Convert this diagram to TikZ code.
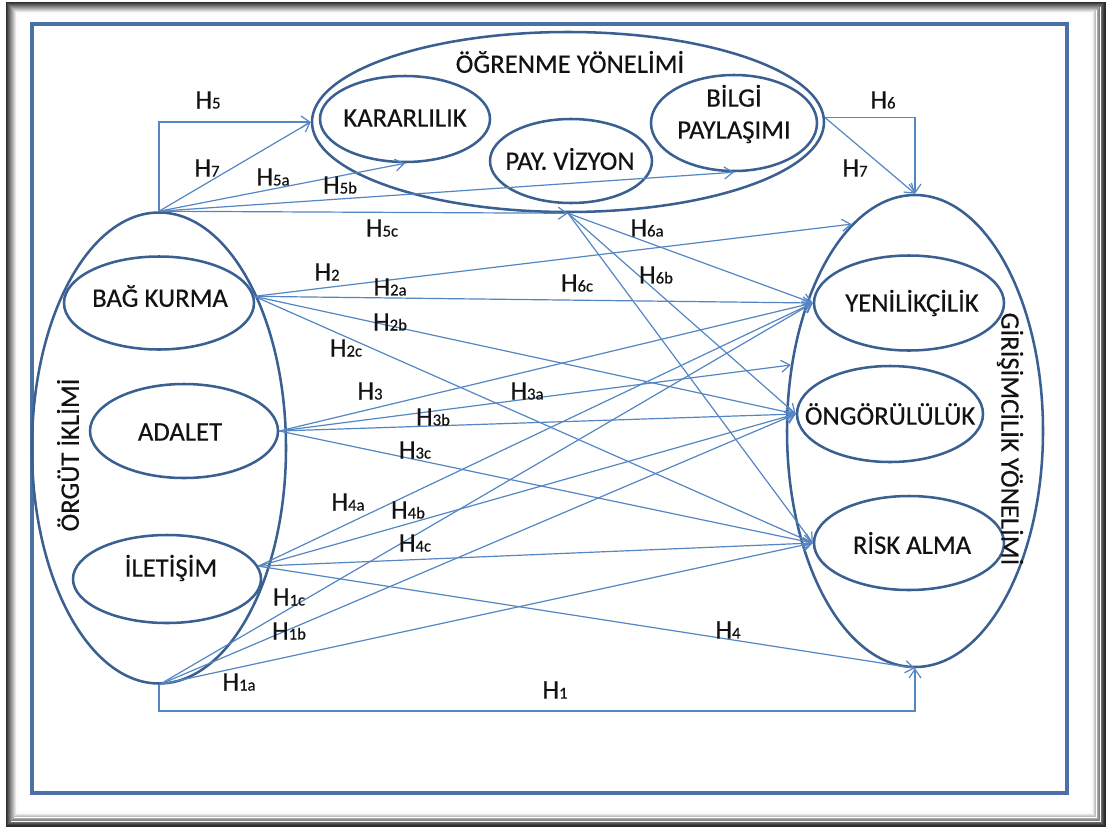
\documentclass[tikz,border=0pt]{standalone}
\usepackage{fontspec}
\setmainfont{Carlito}
\newfontfamily\inkfont{Carlito}[FakeBold=0.4]
\usetikzlibrary{shapes.geometric,arrows.meta}
\definecolor{ringblue}{RGB}{58,95,145}
\definecolor{linkblue}{RGB}{84,134,196}
\definecolor{frameblue}{RGB}{74,112,165}
\definecolor{inkgray}{RGB}{18,18,18}
\newcommand\Hlab[1]{H{\fontsize{12.5}{12.5}\selectfont #1}}
\begin{document}
\begin{tikzpicture}[x=0.75pt,y=-0.75pt,
  oval/.style={ellipse, draw=ringblue, line width=1.9pt, inner sep=0pt},
  sz/.style 2 args={minimum width={#1*0.75pt}, minimum height={#2*0.75pt}},
  link/.style={draw=linkblue, line width=0.9pt, -{Straight Barb[length=6.5pt,width=9pt]}},
  lbl/.style={font=\inkfont\fontsize{20}{24}\selectfont, text=inkgray, inner sep=0pt, align=center},
  hyp/.style={font=\inkfont\fontsize{20}{22}\selectfont, text=inkgray, inner sep=0pt},
]
\useasboundingbox (0,0) rectangle (1113,832);
\fill[white] (0,0) rectangle (1113,832);

% shadowed outer border
\foreach \i in {0,...,10} {
  \pgfmathsetmacro\g{max(0,82-\i*8)}
  \draw[black!\g, line width=0.8pt] (7+\i,3+\i) rectangle (1105-1.3*\i,826-1.3*\i);
}
% inner blue frame
\draw[frameblue, line width=2.3pt] (32,24) rectangle (1067,793);

% ellipses
\node[oval, sz={512}{180}] (ogr) at (568,122) {};
\node[oval, sz={170}{86}]  (kar) at (405,119) {};
\node[oval, sz={162}{84}]  (pay) at (571,161) {};
\node[oval, sz={166}{96}]  (bil) at (734,123) {};
\node[oval, sz={254}{471}] (org) at (159,448) {};
\node[oval, sz={190}{93}]  (bag) at (159,303) {};
\node[oval, sz={188}{94}]  (ada) at (184,431) {};
\node[oval, sz={188}{88}]  (ile) at (167,579) {};
\node[oval, sz={256}{472}] (gir) at (915,431) {};
\node[oval, sz={190}{95}]  (yen) at (909,303) {};
\node[oval, sz={186}{96}]  (ong) at (890,414) {};
\node[oval, sz={190}{94}]  (ris) at (909,543) {};

% connectors from the top of ÖRGÜT İKLİMİ
\draw[link] (org.north) |- (ogr.west);
\draw[link] (org.north) -- (ogr.west);
\draw[link] (org.north) -- (kar.south);
\draw[link] (org.north) -- (bil.south);
\draw[link] (org.north) -- (ogr.south);
% from ÖĞRENME YÖNELİMİ
\draw[link] (ogr.south) -- (yen.west);
\draw[link] (ogr.south) -- (ong.west);
\draw[link] (ogr.south) -- (ris.west);
\draw[link] (ogr.1.5) -| (gir.north);
\draw[link] (ogr.1.5) -- (gir.north);
% from BAĞ KURMA
\draw[link] (bag.4) -- (gir.107);
\draw[link] (bag.4) -- (yen.west);
\draw[link] (bag.4) -- (ong.west);
\draw[link] (bag.4) -- (ris.west);
% from ADALET
\draw[link] (ada.east) -- (yen.west);
\draw[link] (ada.east) -- (gir.152);
\draw[link] (ada.east) -- (ong.west);
\draw[link] (ada.east) -- (ris.west);
% from İLETİŞİM
\draw[link] (ile.8) -- (yen.west);
\draw[link] (ile.8) -- (ong.west);
\draw[link] (ile.8) -- (ris.west);
\draw[link] (ile.8) -- (gir.south);
% from the bottom of ÖRGÜT İKLİMİ
\draw[link] (org.south) -- (yen.west);
\draw[link] (org.south) -- (ong.west);
\draw[link] (org.south) -- (ris.west);
\coordinate (h1turn) at (159,711);
\draw[link] (org.south) -- (h1turn) -| (gir.south);

% construct names
\node[lbl] (togr) at (570,62) {ÖĞRENME YÖNELİMİ};
\node[lbl] (tkar) at (405,118) {KARARLILIK};
\node[lbl] (tpay) at (570,159) {PAY. VİZYON};
\node[lbl] (tbil) at (734,114) {BİLGİ\\PAYLAŞIMI};
\node[lbl, rotate=90] (torg) at (68,455) {ÖRGÜT İKLİMİ};
\node[lbl] (tbag) at (160,296) {BAĞ KURMA};
\node[lbl] (tada) at (180,432) {ADALET};
\node[lbl] (tile) at (171,568) {İLETİŞİM};
\node[lbl, rotate=-90] (tgir) at (1010,439) {GİRİŞİMCİLİK YÖNELİMİ};
\node[lbl] (tyen) at (912,303) {YENİLİKÇİLİK};
\node[lbl] (tong) at (890,414) {ÖNGÖRÜLÜLÜK};
\node[lbl] (tris) at (912,543) {RİSK ALMA};

% hypothesis labels
\node[hyp] (l5)  at (208,100) {\Hlab{5}};
\node[hyp] (l7a) at (207,168) {\Hlab{7}};
\node[hyp] (l5a) at (273,177) {\Hlab{5a}};
\node[hyp] (l5b) at (340,185) {\Hlab{5b}};
\node[hyp] (l5c) at (382,228) {\Hlab{5c}};
\node[hyp] (l6)  at (883,100) {\Hlab{6}};
\node[hyp] (l7b) at (855,168) {\Hlab{7}};
\node[hyp] (l6a) at (647,228) {\Hlab{6a}};
\node[hyp] (l6b) at (656,275) {\Hlab{6b}};
\node[hyp] (l6c) at (577,283) {\Hlab{6c}};
\node[hyp] (l2)  at (327,272) {\Hlab{2}};
\node[hyp] (l2a) at (390,287) {\Hlab{2a}};
\node[hyp] (l2b) at (390,322) {\Hlab{2b}};
\node[hyp] (l2c) at (346,348) {\Hlab{2c}};
\node[hyp] (l3)  at (370,391) {\Hlab{3}};
\node[hyp] (l3a) at (527,391) {\Hlab{3a}};
\node[hyp] (l3b) at (433,417) {\Hlab{3b}};
\node[hyp] (l3c) at (415,450) {\Hlab{3c}};
\node[hyp] (l4a) at (348,502) {\Hlab{4a}};
\node[hyp] (l4b) at (408,510) {\Hlab{4b}};
\node[hyp] (l4c) at (415,543) {\Hlab{4c}};
\node[hyp] (l1c) at (289,597) {\Hlab{1c}};
\node[hyp] (l1b) at (289,631) {\Hlab{1b}};
\node[hyp] (l1a) at (239,682) {\Hlab{1a}};
\node[hyp] (l4)  at (728,630) {\Hlab{4}};
\node[hyp] (l1)  at (555,690) {\Hlab{1}};
\end{tikzpicture}
\end{document}
